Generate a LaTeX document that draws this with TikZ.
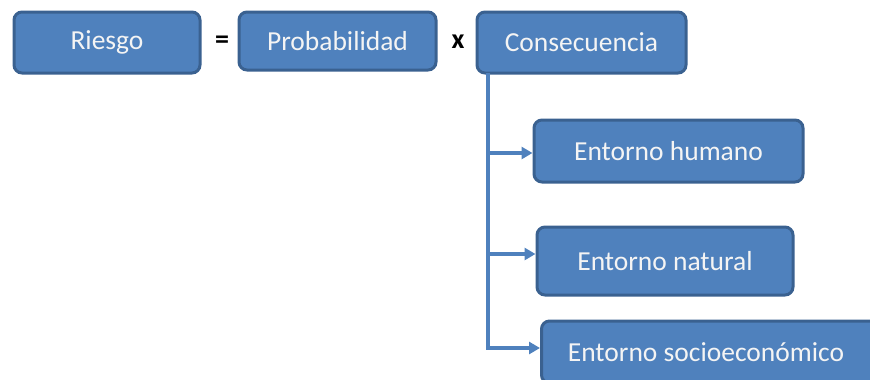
\documentclass[tikz,border=0pt]{standalone}
\usepackage{fontspec}
\setmainfont{Carlito}
\usetikzlibrary{arrows.meta}
\definecolor{boxfill}{HTML}{4F81BD}
\definecolor{boxline}{HTML}{3A6190}
\definecolor{boxtext}{HTML}{F4F4F4}
\tikzset{
  box/.style={draw=boxline, line width=3pt, fill=boxfill, rounded corners=8pt, text=boxtext, font=\fontsize{27.5}{32}\selectfont},
  conn/.style={draw=boxfill, line width=3.6pt},
  arr/.style={conn, -{Triangle[length=11pt,width=12pt]}},
  op/.style={font=\bfseries\fontsize{28}{32}\selectfont, text=black}
}
\begin{document}
\begin{tikzpicture}[x=1pt,y=-1pt]
\useasboundingbox (0,0) rectangle (870,380);
\begin{scope}
\clip (0,0) rectangle (870,380);
\node[box, minimum width=186pt, minimum height=61pt] (riesgo) at (107,42.5) {Riesgo};
\node[op] (eq) at (222,42) {=};
\node[box, minimum width=197pt, minimum height=58pt] (prob) at (337.5,41) {Probabilidad};
\node[op] (times) at (458,42) {x};
\node[box, minimum width=209pt, minimum height=61pt] (cons) at (581.5,42.5) {Consecuencia};
\node[box, minimum width=269pt, minimum height=62pt] (hum) at (668.5,151) {Entorno humano};
\node[box, minimum width=256pt, minimum height=68pt] (nat) at (665,261) {Entorno natural};
\node[box, minimum width=340pt, minimum height=62pt, anchor=west] (soc) at (540,352) {};
\node[text=boxtext, font=\fontsize{27.5}{32}\selectfont] (soct) at (706,352) {Entorno socioeconómico};
\coordinate (top) at (488,73);
\coordinate (bot) at (488,348);
\coordinate (b1) at (488,153);
\coordinate (b2) at (488,254);
\end{scope}
\draw[conn] (top) -- (bot);
\draw[arr] (b1) -- (hum.west |- b1);
\draw[arr] (b2) -- (nat.west |- b2);
\draw[arr] ([xshift=-1.8pt]bot) -- (soc.west |- bot);
\end{tikzpicture}
\end{document}
